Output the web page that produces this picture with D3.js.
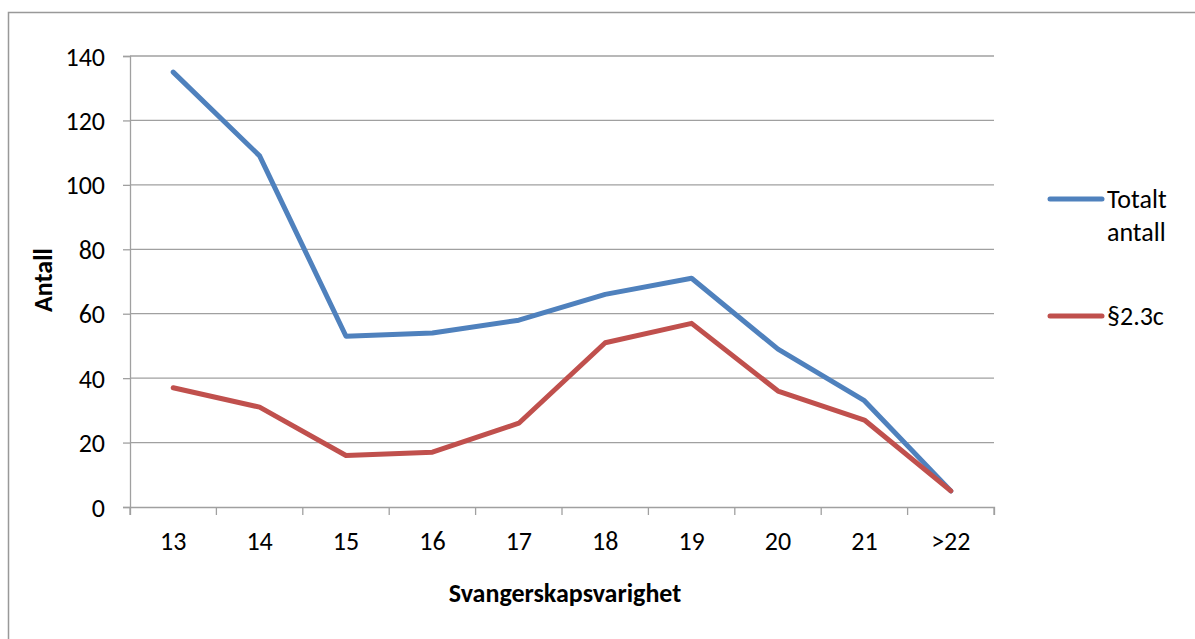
<!DOCTYPE html>
<html>
<head>
<meta charset="utf-8">
<script src="https://cdn.jsdelivr.net/npm/d3@7/dist/d3.min.js"></script>
<style>
  body { margin: 0; background: #fff; }
  svg { display: block; }
  text { font-family: Carlito, Calibri, Lato, 'Open Sans', sans-serif; fill: #000; }
</style>
</head>
<body>
<div class="chart"></div>
<script>
// data
const categories = ['13', '14', '15', '16', '17', '18', '19', '20', '21', '>22'];
const totalt = [135, 109, 53, 54, 58, 66, 71, 49, 33, 5];
const paragraf = [37, 31, 16, 17, 26, 51, 57, 36, 27, 5];
const yTicks = [0, 20, 40, 60, 80, 100, 120, 140];
const seriesNames = ['Totalt antall', '§2.3c'];
const seriesColors = ['#4f81bd', '#c0504d'];

const WIDTH = 1195;
const HEIGHT = 639;
const MARGINS = {top: 56, right: 201, bottom: 132, left: 130};
const FONT = '26px';

const svg = d3.select('.chart')
  .append('svg')
  .attr('width', WIDTH)
  .attr('height', HEIGHT);

// outer frame
svg.append('rect')
  .attr('x', 8.5)
  .attr('y', 12.5)
  .attr('width', 1300)
  .attr('height', 800)
  .attr('fill', 'none')
  .attr('stroke', '#999')
  .attr('stroke-width', 1.5);

const xRange = d3.scaleBand()
  .domain(categories)
  .range([MARGINS.left, WIDTH - MARGINS.right]);

const yRange = d3.scaleLinear()
  .domain([0, 140])
  .range([HEIGHT - MARGINS.bottom, MARGINS.top]);

// gridlines
svg.append('g')
  .selectAll('line')
  .data(yTicks.slice(1))
  .enter()
  .append('line')
  .attr('x1', MARGINS.left)
  .attr('x2', WIDTH - MARGINS.right)
  .attr('y1', d => yRange(d))
  .attr('y2', d => yRange(d))
  .attr('stroke', '#a0a0a0')
  .attr('stroke-width', 1.3);

// y axis
const yAxis = d3.axisLeft(yRange)
  .tickValues(yTicks)
  .tickSize(7)
  .tickPadding(18);
const yAxisg = svg.append('g')
  .attr('transform', 'translate(' + MARGINS.left + ',0)')
  .call(yAxis);
yAxisg.selectAll('.tick text')
  .style('font-size', FONT)
  .attr('dy', '0.35em');

// x axis
const xAxis = d3.axisBottom(xRange)
  .tickSize(8)
  .tickPadding(17);
const xAxisg = svg.append('g')
  .attr('transform', 'translate(0,' + (HEIGHT - MARGINS.bottom) + ')')
  .call(xAxis);
xAxisg.selectAll('.tick line').remove();
xAxisg.selectAll('.tick text')
  .style('font-size', FONT)
  .attr('dy', '0.71em');
// ticks between categories
xAxisg.selectAll('.sep')
  .data(categories.concat(['end']))
  .enter()
  .append('line')
  .attr('x1', (d, i) => MARGINS.left + i * xRange.step())
  .attr('x2', (d, i) => MARGINS.left + i * xRange.step())
  .attr('y1', 0)
  .attr('y2', 8);

[yAxisg, xAxisg].forEach(g => {
  g.selectAll('path, line').attr('stroke', '#a0a0a0').attr('stroke-width', 1.3);
  g.selectAll('text').style('font-family', 'Carlito, Calibri, Lato, "Open Sans", sans-serif');
});

// axis titles
svg.append('text')
  .text('Svangerskapsvarighet')
  .attr('x', (MARGINS.left + WIDTH - MARGINS.right) / 2 + 3)
  .attr('y', 602)
  .attr('text-anchor', 'middle')
  .style('font-size', FONT)
  .style('font-weight', 'bold');

svg.append('text')
  .text('Antall')
  .attr('transform', 'translate(52,280) rotate(-90)')
  .attr('text-anchor', 'middle')
  .style('font-size', FONT)
  .style('font-weight', 'bold');

// lines
const lineFunction = d3.line()
  .x((d, i) => xRange(categories[i]) + xRange.bandwidth() / 2)
  .y(d => yRange(d))
  .curve(d3.curveLinear);

[totalt, paragraf].forEach((values, k) => {
  svg.append('path')
    .attr('d', lineFunction(values))
    .attr('fill', 'none')
    .attr('stroke', seriesColors[k])
    .attr('stroke-width', 5)
    .attr('stroke-linejoin', 'round')
    .attr('stroke-linecap', 'round');
});

// legend
const legendY = [199, 316];
seriesNames.forEach((name, k) => {
  svg.append('line')
    .attr('x1', 1050)
    .attr('x2', 1102)
    .attr('y1', legendY[k])
    .attr('y2', legendY[k])
    .attr('stroke', seriesColors[k])
    .attr('stroke-width', 5)
    .attr('stroke-linecap', 'round');
  const lines = name.startsWith('Totalt') ? name.split(' ') : [name];
  lines.forEach((w, j) => {
    svg.append('text')
      .text(w)
      .attr('x', 1107)
      .attr('y', legendY[k] + 9 + j * 33)
      .style('font-size', FONT);
  });
});
</script>
</body>
</html>
